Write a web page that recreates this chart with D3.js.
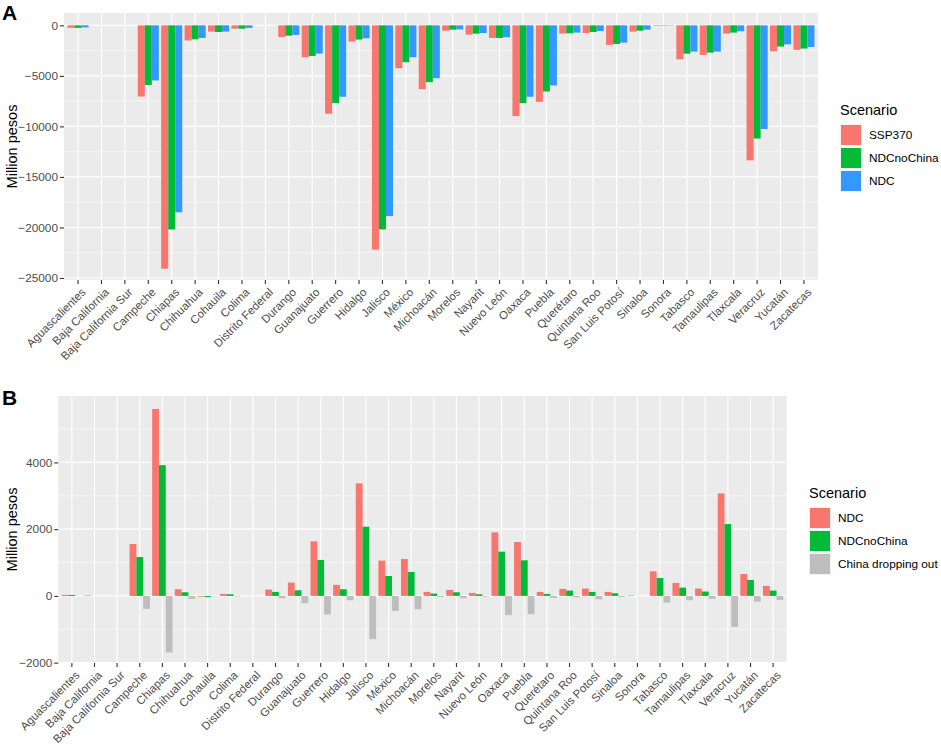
<!DOCTYPE html>
<html>
<head>
<meta charset="utf-8">
<script src="https://cdn.jsdelivr.net/npm/d3@7"></script>
<style>
  body { margin: 0; background: #fff; }
  svg { display: block; font-family: "Liberation Sans", Arial, Helvetica, sans-serif; }
</style>
</head>
<body>
<div id="chart"></div>
<script>
// states on the x axis (both panels)
var states = ["Aguascalientes", "Baja California", "Baja California Sur", "Campeche", "Chiapas",
  "Chihuahua", "Cohauila", "Colima", "Distrito Federal", "Durango", "Guanajuato", "Guerrero",
  "Hidalgo", "Jalisco", "México", "Michoacán", "Morelos", "Nayarit", "Nuevo León", "Oaxaca",
  "Puebla", "Querétaro", "Quintana Roo", "San Luis Potosí", "Sinaloa", "Sonora", "Tabasco",
  "Tamaulipas", "Tlaxcala", "Veracruz", "Yucatán", "Zacatecas"];

// panel A: losses, million pesos
var seriesA = ["SSP370", "NDCnoChina", "NDC"];
var ssp370A = [-250, 0, 0, -7040, -24080, -1500, -625, -330, 0, -1150, -3160, -8750, -1610, -22200,
  -4240, -6320, -530, -920, -1250, -8980, -7570, -820, -760, -1940, -625, -50, -3360, -2930, -820,
  -13360, -2570, -2430];
var ndcNoChinaA = [-250, 0, 0, -5900, -20200, -1380, -660, -330, 0, -1020, -3030, -7700, -1410, -20200,
  -3650, -5620, -430, -820, -1250, -7700, -6550, -790, -660, -1840, -530, -40, -2800, -2700, -720,
  -11200, -2100, -2300];
var ndcA = [-200, 0, 0, -5450, -18500, -1250, -620, -260, 0, -950, -2800, -7070, -1280, -18880,
  -3160, -5230, -400, -760, -1180, -7070, -5950, -720, -560, -1710, -430, -30, -2600, -2600, -590,
  -10260, -1880, -2140];
var ticksA = [0, -5000, -10000, -15000, -20000, -25000];

// panel B: avoided losses, million pesos
var seriesB = ["NDC", "NDCnoChina", "China dropping out"];
var ndcB = [30, 15, 0, 1555, 5603, 200, -20, 60, 0, 190, 400, 1635, 330, 3370, 1057, 1107, 120, 180,
  90, 1904, 1615, 120, 210, 220, 120, 15, 738, 389, 220, 3070, 658, 300];
var ndcNoChinaB = [30, 0, 0, 1167, 3918, 110, -30, 50, 0, 120, 170, 1077, 200, 2074, 598, 718, 70, 110,
  50, 1326, 1067, 60, 160, 120, 80, 0, 538, 249, 130, 2153, 479, 160];
var chinaOutB = [0, 0, 0, -389, -1695, -90, -10, -15, 0, -70, -220, -558, -130, -1296, -449, -399, -30,
  -70, -20, -578, -548, -60, -40, -100, -30, 0, -200, -130, -90, -927, -170, -120];
var ticksB = [-2000, 0, 2000, 4000];

var W = 941, H = 747;
var svg = d3.select("#chart").append("svg").attr("width", W).attr("height", H);

function drawPanel(opt) {
  var g = svg.append("g");
  var x = d3.scaleBand().domain(states).range([opt.left, opt.right]).paddingInner(0).paddingOuter(0.1);
  var xs = d3.scaleBand().domain(opt.series).range([x.bandwidth() * 0.05, x.bandwidth() * 0.95]);
  var y = d3.scaleLinear().domain(opt.domain).range([opt.bottom, opt.top]);
  var color = d3.scaleOrdinal().domain(opt.series).range(opt.colors);

  // panel background
  g.append("rect").attr("x", opt.left).attr("y", opt.top)
    .attr("width", opt.right - opt.left).attr("height", opt.bottom - opt.top)
    .attr("fill", "#EBEBEB");

  // minor grid
  var minor = [];
  for (var i = 0; i < opt.ticks.length - 1; i++) minor.push((opt.ticks[i] + opt.ticks[i + 1]) / 2);
  var lo = d3.min(opt.ticks), hi = d3.max(opt.ticks), st = Math.abs(opt.ticks[1] - opt.ticks[0]);
  if (hi + st / 2 < opt.domain[1]) minor.push(hi + st / 2);
  if (hi + st * 1.5 < opt.domain[1]) minor.push(hi + st * 1.5);
  if (lo - st / 2 > opt.domain[0]) minor.push(lo - st / 2);
  g.selectAll(".minor").data(minor).enter().append("line")
    .attr("x1", opt.left).attr("x2", opt.right)
    .attr("y1", function(d) { return y(d); }).attr("y2", function(d) { return y(d); })
    .attr("stroke", "#fff").attr("stroke-width", 0.55);

  // major grid
  g.selectAll(".hmajor").data(opt.ticks).enter().append("line")
    .attr("x1", opt.left).attr("x2", opt.right)
    .attr("y1", function(d) { return y(d); }).attr("y2", function(d) { return y(d); })
    .attr("stroke", "#fff").attr("stroke-width", 1.1);
  g.selectAll(".vmajor").data(states).enter().append("line")
    .attr("x1", function(d) { return x(d) + x.bandwidth() / 2; })
    .attr("x2", function(d) { return x(d) + x.bandwidth() / 2; })
    .attr("y1", opt.top).attr("y2", opt.bottom)
    .attr("stroke", "#fff").attr("stroke-width", 1.1);

  // bars
  opt.series.forEach(function(s, k) {
    var vals = opt.values[k];
    g.selectAll(".bar" + k).data(states).enter().append("rect")
      .attr("x", function(d) { return x(d) + xs(s); })
      .attr("width", xs.bandwidth())
      .attr("y", function(d, i) { return y(Math.max(0, vals[i])); })
      .attr("height", function(d, i) { return Math.abs(y(vals[i]) - y(0)); })
      .attr("fill", color(s));
  });

  // y axis
  var ya = g.append("g").attr("transform", "translate(" + opt.left + ",0)")
    .call(d3.axisLeft(y).tickValues(opt.ticks).tickSize(4).tickPadding(2).tickFormat(d3.format("d")));
  ya.select(".domain").remove();
  ya.selectAll(".tick line").attr("stroke", "#333").attr("stroke-width", 1.1);
  ya.selectAll(".tick text").attr("fill", "#4D4D4D").style("font-size", "11.8px");

  // x axis
  var xa = g.append("g").attr("transform", "translate(0," + opt.bottom + ")")
    .call(d3.axisBottom(x).tickSize(4).tickPadding(0));
  xa.select(".domain").remove();
  xa.selectAll(".tick line").attr("stroke", "#333").attr("stroke-width", 1.1);
  xa.selectAll(".tick text")
    .attr("fill", "#4D4D4D").style("font-size", "11.5px")
    .attr("text-anchor", "end")
    .attr("x", 0).attr("y", 0).attr("dy", "0.72em")
    .attr("transform", "translate(2.5,7) rotate(-45)");

  // y title
  g.append("text")
    .attr("transform", "translate(" + opt.ytitleX + "," + ((opt.top + opt.bottom) / 2) + ") rotate(-90)")
    .attr("text-anchor", "middle").attr("dy", "0.35em")
    .style("font-size", "14.5px").attr("fill", "#000").text("Million pesos");

  // panel tag
  g.append("text").attr("x", 2).attr("y", opt.tagY)
    .style("font-size", "21px").style("font-weight", "bold").text(opt.tag);

  // legend
  var lg = g.append("g").attr("transform", "translate(" + opt.legX + "," + opt.legY + ")");
  lg.append("text").attr("x", 0).attr("y", 0).style("font-size", "14.5px").text("Scenario");
  opt.series.forEach(function(s, k) {
    lg.append("rect").attr("x", 0.5).attr("y", 9.5 + k * 23)
      .attr("width", 21).attr("height", 21).attr("fill", color(s))
      .attr("stroke", "#F2F2F2").attr("stroke-width", 1);
    lg.append("text").attr("x", 29).attr("y", 20 + k * 23).attr("dy", "0.35em")
      .style("font-size", "11.8px").attr("fill", "#000").text(s);
  });
}

drawPanel({
  tag: "A", tagY: 20,
  left: 64, right: 818, top: 13, bottom: 280,
  domain: [-25200, 1220], ticks: ticksA,
  series: seriesA, values: [ssp370A, ndcNoChinaA, ndcA],
  colors: ["#F8766D", "#00BA38", "#3399FF"],
  ytitleX: 12, legX: 840, legY: 115
});

drawPanel({
  tag: "B", tagY: 405,
  left: 58.3, right: 786.7, top: 396, bottom: 663,
  domain: [-2010, 5990], ticks: ticksB,
  series: seriesB, values: [ndcB, ndcNoChinaB, chinaOutB],
  colors: ["#F8766D", "#00BA38", "#BEBEBE"],
  ytitleX: 12, legX: 809, legY: 498
});
</script>
</body>
</html>
